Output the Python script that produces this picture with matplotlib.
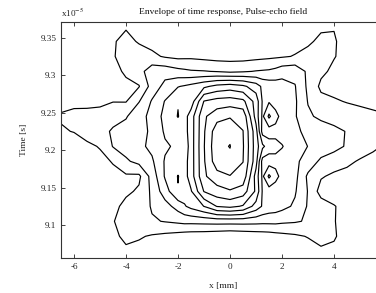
import matplotlib
matplotlib.use("Agg")
import matplotlib.pyplot as plt
import numpy as np

plt.rcParams['font.family'] = ['Liberation Serif', 'DejaVu Serif']
plt.rcParams['mathtext.fontset'] = 'stix'

# lateral position [mm] (grid columns)
x_mm = [-6.5, -6.0, -5.5, -5.0, -4.5, -4.0, -3.5, -3.0, -2.5, -2.0, -1.75, -1.5,
        -1.0, -0.5, 0.0, 0.5, 1.0, 1.25, 1.5, 1.75, 2.0, 2.5, 3.0, 3.5, 4.0,
        4.5, 5.0, 5.5, 6.0, 6.5]
# time [x1e-5 s] (grid rows)
t_e5 = [9.045, 9.065, 9.085, 9.105, 9.125, 9.145, 9.165, 9.185, 9.205,
        9.225, 9.245, 9.265, 9.285, 9.305, 9.325, 9.345, 9.365]

# envelope level (contour units), one list per time row, bottom to top
r00 = [0.05,0.05,0.1,0.1,0.3,0.45,0.4,0.3,0.25,0.2,0.15,0.15,0.1,0.1,0.1,0.1,0.1,0.15,0.15,0.2,0.2,0.25,0.3,0.45,0.45,0.25,0.15,0.1,0.05,0.05]
r01 = [0.1,0.1,0.15,0.2,0.5,0.8,0.7,0.55,0.45,0.35,0.3,0.3,0.25,0.2,0.15,0.2,0.25,0.3,0.3,0.35,0.4,0.5,0.6,0.85,0.8,0.45,0.25,0.15,0.1,0.1]
r02 = [0.1,0.15,0.2,0.3,0.75,1.25,1.1,0.9,0.75,0.6,0.5,0.45,0.4,0.3,0.2,0.3,0.4,0.45,0.5,0.6,0.7,0.85,1.05,1.3,1.1,0.6,0.35,0.25,0.2,0.15]
r03 = [0.15,0.2,0.25,0.35,0.95,1.4,1.45,1.9,2.05,2.2,2.3,2.3,2.35,2.4,2.4,2.4,2.35,2.3,2.3,2.3,2.2,2.1,1.9,1.5,1.05,0.6,0.4,0.3,0.25,0.2]
r04 = [0.2,0.25,0.3,0.4,0.7,1.3,1.4,2.1,2.6,3.4,3.9,4.3,5.02,6.05,6.26,5.9,4.6,3.9,3.6,3.5,3.3,2.85,1.9,1.5,1.05,0.7,0.5,0.4,0.35,0.3]
r05 = [0.25,0.3,0.35,0.45,0.6,0.8,1.15,2.2,3.53,4.95,4.5,4.9,7.05,7.6,7.9,7.5,5.83,3.9,3.5,3.5,3.4,3.1,1.95,0.6,0.55,0.5,0.45,0.4,0.35,0.3]
r06 = [0.3,0.35,0.45,0.55,0.8,0.85,0.8,2.4,4.1,5.04,4.6,5.5,7.85,8.6,8.95,8.7,5.6,3.8,5.2,4.3,3.7,3.3,1.8,1.1,0.8,0.7,0.6,0.5,0.45,0.4]
r07 = [0.45,0.55,0.65,0.8,1.05,1.85,2.3,2.85,4.1,4.5,4.6,5.5,7.9,9.6,9.79,9.02,6.4,3.6,3.5,3.7,3.65,3.2,2.6,1.8,1.5,1.2,0.9,0.75,0.65,0.55]
r08 = [0.6,0.75,0.85,1.05,2.05,2.4,2.75,3.25,3.85,4.2,4.3,5.5,7.95,9.77,10.03,9.1,6.47,5.23,4.5,4.3,4.05,3.5,2.98,2.6,2.3,1.9,1.5,1.15,0.9,0.75]
r09 = [0.95,1.02,1.3,1.6,2.15,2.45,2.8,3.1,4.15,4.5,4.6,5.5,7.9,9.6,9.79,9.02,6.4,3.6,3.5,3.7,3.65,3.2,2.75,2.5,2.25,1.95,1.6,1.35,1.2,1.1]
r10 = [1.05,1.15,1.15,1.25,1.6,1.9,2.75,3.2,4.35,5.04,4.6,5.5,7.85,8.6,8.9,8.7,5.6,3.8,5.2,4.3,3.7,3.1,2.15,1.8,1.6,1.45,1.3,1.15,1.05,0.97]
r11 = [0.85,0.86,0.87,0.85,0.97,0.95,1.95,3.1,4.05,4.95,4.5,4.43,7.05,7.4,7.5,7.25,5.6,3.9,3.9,3.6,3.5,3.15,1.95,1.3,1.1,0.95,0.85,0.8,0.78,0.75]
r12 = [0.5,0.5,0.55,0.6,0.7,0.85,0.95,2.4,3.3,3.95,4.1,4.3,4.8,5.3,5.5,5.2,4.5,3.8,3.6,3.5,3.4,3.05,1.8,0.8,0.7,0.6,0.55,0.5,0.5,0.5]
r13 = [0.3,0.35,0.45,0.6,0.8,1.1,1.6,2.6,2.6,2.3,2.2,2.1,2.05,1.95,1.8,1.9,2.05,2.1,2.15,2.3,2.6,2.7,1.8,1.2,0.8,0.6,0.5,0.4,0.35,0.3]
r14 = [0.3,0.35,0.4,0.6,0.9,1.5,1.5,1.2,0.9,0.75,0.78,0.8,0.7,0.6,0.6,0.6,0.7,0.75,0.8,0.85,0.9,1.05,1.3,1.5,1.05,0.7,0.5,0.4,0.35,0.3]
r15 = [0.2,0.25,0.3,0.45,0.9,1.3,0.9,0.7,0.55,0.5,0.5,0.5,0.45,0.4,0.4,0.4,0.45,0.5,0.5,0.55,0.6,0.7,0.85,1.2,1.1,0.6,0.4,0.3,0.25,0.2]
r16 = [0.1,0.15,0.2,0.3,0.6,0.9,0.7,0.5,0.4,0.35,0.35,0.35,0.3,0.3,0.3,0.3,0.3,0.35,0.35,0.4,0.4,0.5,0.6,0.85,0.95,0.5,0.3,0.2,0.15,0.1]

levels = [1, 2, 3, 4, 5, 6, 7, 8, 9, 10]
x_ticks = [-6, -4, -2, 0, 2, 4]
x_ticklabels = ['-6', '-4', '-2', '0', '2', '4']
y_ticks = [9.1, 9.15, 9.2, 9.25, 9.3, 9.35]
y_ticklabels = ['9.1', '9.15', '9.2', '9.25', '9.3', '9.35']

Z = np.array([r00, r01, r02, r03, r04, r05, r06, r07, r08, r09, r10, r11,
              r12, r13, r14, r15, r16])

W, H = 376, 293
fig = plt.figure(figsize=(W / 100, H / 100), dpi=100)
ax_l, ax_r, ax_t, ax_b = 61, 386, 22, 258.3
ax = fig.add_axes([ax_l / W, 1 - ax_b / H, (ax_r - ax_l) / W, (ax_b - ax_t) / H])

ax.contour(x_mm, t_e5, Z, levels=levels, colors='k', linewidths=0.85)

ax.set_xlim(-6.5, 6.0)
ax.set_ylim(9.0556, 9.3709)
ax.set_xticks(x_ticks)
ax.set_xticklabels(x_ticklabels)
ax.set_yticks(y_ticks)
ax.set_yticklabels(y_ticklabels)
ax.tick_params(direction='in', length=3, width=0.6, top=True, right=True,
               labelsize=6.6, pad=3.3, colors='#222222', labelcolor='#222222')
for s in ax.spines.values():
    s.set_linewidth(0.8)
    s.set_color('#333333')

fig.text(223.5 / W, 1 - 11.5 / H, 'Envelope of time response, Pulse-echo field',
         ha='center', va='center', fontsize=6.8, color='#111111')
fig.text(61 / W, 1 - 13 / H, r'x10$^{-5}$', ha='left', va='center',
         fontsize=6.6, color='#222222')
fig.text(24 / W, 1 - 140 / H, 'Time [s]', rotation=90, ha='center', va='center',
         fontsize=6.8, color='#222222')
fig.text(223.5 / W, 1 - 286 / H, 'x [mm]', ha='center', va='center',
         fontsize=6.8, color='#222222')

fig.savefig('out.png', dpi=100)
